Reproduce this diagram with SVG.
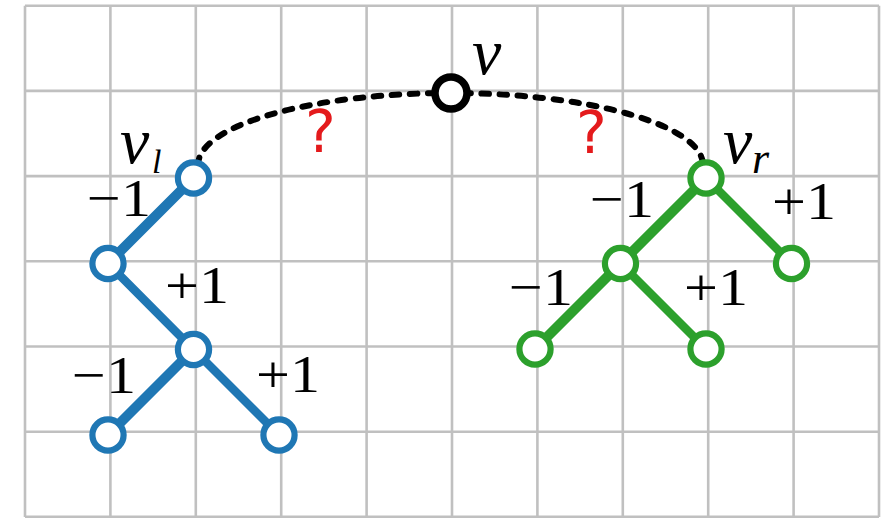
<svg xmlns="http://www.w3.org/2000/svg" width="895" height="518" viewBox="0 0 895 518">
<style>
.grid line{stroke:#c0c0c0;stroke-width:2.6}
.eb{stroke:#1f77b4;fill:none;stroke-linecap:round}
.eg{stroke:#2ca02c;fill:none;stroke-linecap:round}
.thick{stroke-width:10}
.thin{stroke-width:8.5}
.nb{fill:#fff;stroke:#1f77b4;stroke-width:6.2}
.ng{fill:#fff;stroke:#2ca02c;stroke-width:6.2}
.nk{fill:#fff;stroke:#000;stroke-width:7.5}
.num{font-family:'Liberation Serif','Times New Roman',serif;font-size:53px;fill:#000;text-anchor:end}
.lab{font-family:'Liberation Serif','Times New Roman',serif;font-style:italic;fill:#000}
.q{font-family:'DejaVu Sans',sans-serif;font-size:58px;fill:#e41a1c;text-anchor:middle}
</style>
<rect width="895" height="518" fill="#fff"/>
<g class="grid">
<line x1="25" y1="5.7" x2="25" y2="516.9"/>
<line x1="110.4" y1="5.7" x2="110.4" y2="516.9"/>
<line x1="195.8" y1="5.7" x2="195.8" y2="516.9"/>
<line x1="281.2" y1="5.7" x2="281.2" y2="516.9"/>
<line x1="366.6" y1="5.7" x2="366.6" y2="516.9"/>
<line x1="452" y1="5.7" x2="452" y2="516.9"/>
<line x1="537.4" y1="5.7" x2="537.4" y2="516.9"/>
<line x1="622.8" y1="5.7" x2="622.8" y2="516.9"/>
<line x1="708.2" y1="5.7" x2="708.2" y2="516.9"/>
<line x1="793.6" y1="5.7" x2="793.6" y2="516.9"/>
<line x1="879" y1="5.7" x2="879" y2="516.9"/>
<line x1="25" y1="5.7" x2="879" y2="5.7"/>
<line x1="25" y1="90.9" x2="879" y2="90.9"/>
<line x1="25" y1="176.1" x2="879" y2="176.1"/>
<line x1="25" y1="261.3" x2="879" y2="261.3"/>
<line x1="25" y1="346.5" x2="879" y2="346.5"/>
<line x1="25" y1="431.7" x2="879" y2="431.7"/>
<line x1="25" y1="516.9" x2="879" y2="516.9"/>
</g>
<g id="connectors">
<path d="M198 165 A252.5 72 0 0 1 703 165" fill="none" stroke="#000" stroke-width="6" stroke-dasharray="7.5 10.5" stroke-linecap="round"/>
<line class="eb thick" x1="193.5" y1="178" x2="108" y2="263.5"/>
<line class="eb thin" x1="108" y1="263.5" x2="193.5" y2="349.5"/>
<line class="eb thick" x1="193.5" y1="349.5" x2="108" y2="435"/>
<line class="eb thin" x1="193.5" y1="349.5" x2="279" y2="435"/>
<line class="eg thick" x1="706" y1="178" x2="620.5" y2="263.5"/>
<line class="eg thin" x1="706" y1="178" x2="791.5" y2="263.5"/>
<line class="eg thick" x1="620.5" y1="263.5" x2="535" y2="349"/>
<line class="eg thin" x1="620.5" y1="263.5" x2="706" y2="349"/>
</g>
<g id="v"><circle class="nk" cx="451" cy="93" r="16"/><text class="lab" x="472" y="74" font-size="66">v</text></g>
<g id="vl"><circle class="nb" cx="193.5" cy="178" r="15.6"/><text class="lab" x="120" y="163" font-size="66">v</text><text class="lab" x="152" y="173" font-size="34">l</text></g>
<g id="b1"><circle class="nb" cx="108" cy="263.5" r="15.6"/></g>
<g id="b2"><circle class="nb" cx="193.5" cy="349.5" r="15.6"/></g>
<g id="b3"><circle class="nb" cx="108" cy="435" r="15.6"/></g>
<g id="b4"><circle class="nb" cx="279" cy="435" r="15.6"/></g>
<g id="vr"><circle class="ng" cx="706" cy="178" r="15.6"/><text class="lab" x="723" y="163" font-size="66">v</text><text class="lab" x="752" y="173" font-size="44">r</text></g>
<g id="g1"><circle class="ng" cx="620.5" cy="263.5" r="15.6"/></g>
<g id="g2"><circle class="ng" cx="791.5" cy="263.5" r="15.6"/></g>
<g id="g3"><circle class="ng" cx="535" cy="349" r="15.6"/></g>
<g id="g4"><circle class="ng" cx="706" cy="349" r="15.6"/></g>
<g id="labels">
<text class="num" x="151" y="216" textLength="64" lengthAdjust="spacingAndGlyphs">−1</text>
<text class="num" x="229" y="303" textLength="64" lengthAdjust="spacingAndGlyphs">+1</text>
<text class="num" x="136" y="393" textLength="64" lengthAdjust="spacingAndGlyphs">−1</text>
<text class="num" x="320" y="392" textLength="64" lengthAdjust="spacingAndGlyphs">+1</text>
<text class="num" x="654" y="217" textLength="64" lengthAdjust="spacingAndGlyphs">−1</text>
<text class="num" x="836" y="219" textLength="64" lengthAdjust="spacingAndGlyphs">+1</text>
<text class="num" x="573" y="305" textLength="64" lengthAdjust="spacingAndGlyphs">−1</text>
<text class="num" x="748" y="305" textLength="64" lengthAdjust="spacingAndGlyphs">+1</text>
<text class="q" x="320.5" y="152">?</text>
<text class="q" x="591.5" y="153">?</text>
</g>
</svg>
